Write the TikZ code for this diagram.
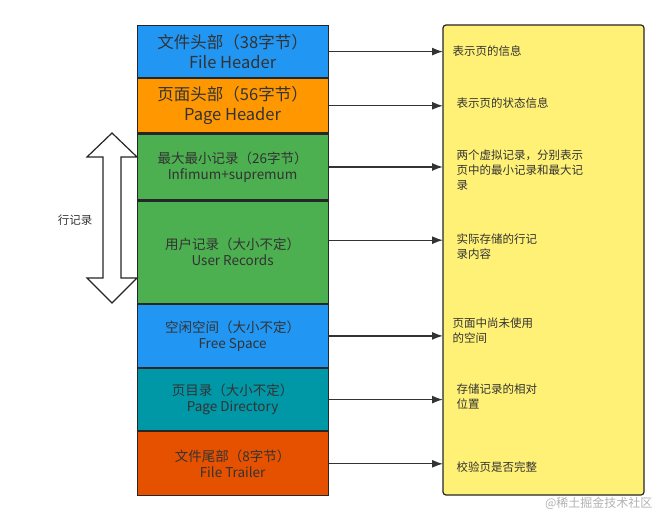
\documentclass[tikz,border=0pt]{standalone}
\usepackage{fontspec}
\setmainfont{Noto Sans CJK SC}
\usetikzlibrary{positioning}
\definecolor{cblue}{HTML}{2196F3}
\definecolor{corange}{HTML}{FF9800}
\definecolor{cgreen}{HTML}{4CAF50}
\definecolor{cteal}{HTML}{0097A7}
\definecolor{cred}{HTML}{E65100}
\definecolor{cyel}{HTML}{FFF176}
\definecolor{ctext}{HTML}{333333}
\tikzset{
  blk/.style={draw=black!85, line width=1.2pt, minimum width=191pt, inner sep=0pt, align=center, text=ctext, font=\fontsize{13.5}{16}\selectfont},
  big/.style={font=\fontsize{16.5}{20}\selectfont},
  note/.style={anchor=west, align=left, text=ctext, font=\fontsize{11.5}{15}\selectfont},
  link/.style={draw=black!80, line width=1.3pt, -{Latex[length=11pt,width=8pt]}}
}
\usetikzlibrary{arrows.meta}
\begin{document}
\begin{tikzpicture}[x=1pt,y=1pt,yscale=-1]
	\useasboundingbox (0,0) rectangle (669,521);
	
	% yellow description box
	\draw [fill=cyel, draw=black!85, line width=1.2pt, rounded corners=3pt] (443,25) rectangle (644,495);
	\coordinate (yel) at (443,260);
	
	% page structure blocks
	\node [blk, big, fill=cblue, minimum height=52pt, anchor=north west] (fh) at (136.5,25) {文件头部（38字节）\\File Header};
	\node [blk, big, fill=corange, minimum height=54pt, below=0pt of fh] (ph) {页面头部（56字节）\\Page Header};
	\node [blk, fill=cgreen, minimum height=66pt, below=0pt of ph] (inf) {最大最小记录（26字节）\\Infimum+supremum};
	\node [blk, fill=cgreen, minimum height=102pt, below=0pt of inf] (ur) {用户记录（大小不定）\\User Records};
	\node [blk, fill=cblue, minimum height=63pt, below=0pt of ur] (fs) {空闲空间（大小不定）\\Free Space};
	\node [blk, fill=cteal, minimum height=62pt, below=0pt of fs] (pd) {页目录（大小不定）\\Page Directory};
	\node [blk, fill=cred, minimum height=64pt, below=0pt of pd] (ft) {文件尾部（8字节）\\File Trailer};
	
	% arrows to descriptions
	\draw [link] (fh.east) -- (fh.east -| yel);
	\draw [link] (ph.east) -- (ph.east -| yel);
	\draw [link] (inf.east) -- (inf.east -| yel);
	\draw [link] ([yshift=-12pt]ur.east) -- ([yshift=-12pt]ur.east -| yel);
	\draw [link] (fs.east) -- (fs.east -| yel);
	\draw [link] (pd.east) -- (pd.east -| yel);
	\draw [link] (ft.east) -- (ft.east -| yel);
	
	% descriptions
	\node [note] (d1) at (449,51) {表示页的信息};
	\node [note] (d2) at (453,103) {表示页的状态信息};
	\node [note] (d3) at (453,170) {两个虚拟记录，分别表示\\页中的最小记录和最大记\\录};
	\node [note] (d4) at (453,247) {实际存储的行记\\录内容};
	\node [note] (d5) at (449,331) {页面中尚未使用\\的空间};
	\node [note] (d6) at (453,397) {存储记录的相对\\位置};
	\node [note] (d7) at (453,467) {校验页是否完整};
	
	% double arrow for row records
	\draw [fill=white, draw=black!85, line width=1.2pt] (112,133) -- (137,157) -- (121,157) -- (121,278) -- (137,278) -- (112,303) -- (87,278) -- (103,278) -- (103,157) -- (87,157) -- cycle;
	\node [text=ctext, font=\fontsize{11.5}{13}\selectfont] (rows) at (75,220) {行记录};
	
	\node [text=black!30, font=\fontsize{12}{14}\selectfont, anchor=east] (wm) at (656,503) {@稀土掘金技术社区};
\end{tikzpicture}
\end{document}
